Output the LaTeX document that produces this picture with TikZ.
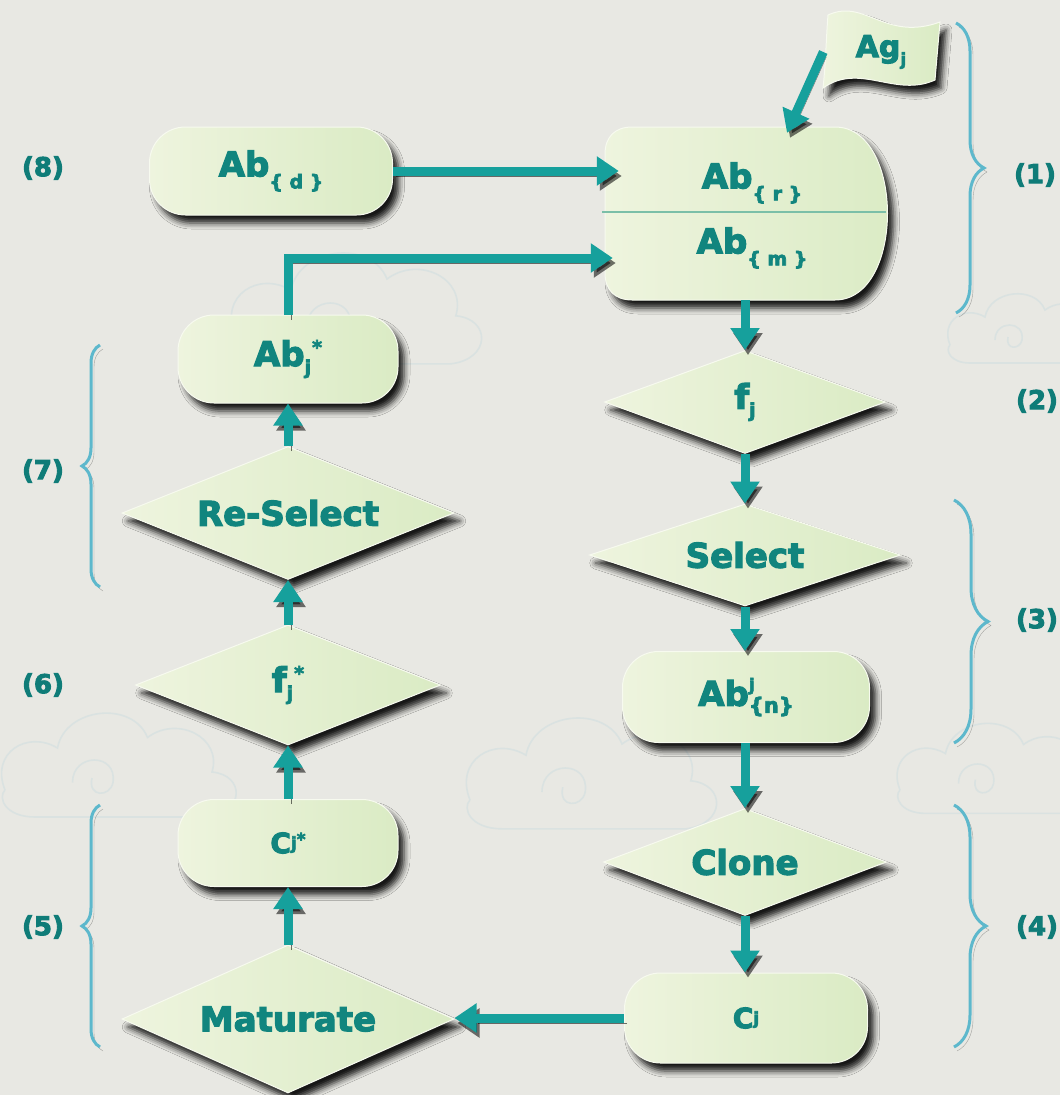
\documentclass[tikz,border=0pt]{standalone}
\usepackage{fontspec}
\setmainfont{DejaVu Sans}
\newfontfamily\heavyfont{DejaVu Sans Bold}[FakeBold=3.5]
\usetikzlibrary{shapes.geometric, arrows.meta, decorations.pathreplacing, shadows.blur, calc}
\definecolor{bgc}{HTML}{E8E8E3}
\definecolor{textc}{HTML}{11857E}
\definecolor{labc}{HTML}{0F7C78}
\definecolor{arrowc}{HTML}{16A09C}
\definecolor{bracec}{HTML}{5DB8CC}
\definecolor{fillL}{HTML}{EEF4DE}
\definecolor{fillR}{HTML}{DAEBC4}
\definecolor{edgec}{HTML}{F7FAEF}
\definecolor{divc}{HTML}{7BBFA8}
\definecolor{cloudc}{HTML}{DAE2E1}
\newcommand\subB[1]{\raisebox{-12pt}{\fontsize{19}{19}\selectfont #1}}
\newcommand\subJ[1]{\raisebox{-8pt}{\fontsize{19}{19}\selectfont #1}}
\newcommand\supS[1]{\raisebox{12pt}{\fontsize{19}{19}\selectfont #1}}
\newcommand\subsupJ[2]{\subJ{#1}\hspace{1pt}\supS{#2}}
\tikzset{
  shapefill/.style={left color=fillL, right color=fillR, draw=edgec, line width=1pt,
    blur shadow={shadow xshift=6pt, shadow yshift=-8pt, shadow blur radius=6pt, shadow opacity=90}},
  txt/.style={text=textc, font=\heavyfont\fontsize{34}{34}\selectfont, inner sep=0pt},
  pill/.style={shapefill, txt, shape=rectangle, rounded corners=36pt},
  dia/.style={shapefill, txt, shape=diamond, aspect=2.5},
  arr/.style={draw=arrowc, line width=9pt, -{Triangle[width=28pt,length=22pt]},
    preaction={draw=black, opacity=0.55, transform canvas={shift={(3pt,-5pt)}}}},
  brc/.style={draw=bracec, line width=3pt, decorate, decoration={brace, amplitude=#1},
    preaction={draw=black, opacity=0.3, transform canvas={shift={(3pt,-4pt)}}}},
  lab/.style={text=labc, font=\heavyfont\fontsize{26}{26}\selectfont, inner sep=0pt},
  cloudline/.style={draw=cloudc, line width=1.6pt},
  cloudpic/.pic={
    \draw[cloudline] (0,0) .. controls (-10,-25) and (15,-40) .. (35,-28)
      .. controls (40,-55) and (85,-60) .. (95,-35)
      .. controls (115,-50) and (145,-35) .. (138,-12)
      .. controls (160,-10) and (160,15) .. (135,18) -- (20,18)
      .. controls (0,18) and (-5,5) .. (0,0);
    \draw[cloudline] (45,-5) .. controls (45,-25) and (75,-25) .. (72,-5)
      .. controls (70,5) and (55,5) .. (58,-8);
  }
}
\begin{document}
\begin{tikzpicture}[x=1pt, y=-1pt]
\useasboundingbox (0,0) rectangle (1060,1095);
\fill[bgc] (0,0) rectangle (1060,1095);
% faint clouds
\pic[scale=1.6] at (235,335) {cloudpic};
\pic[scale=1.5] at (5,790) {cloudpic};
\pic[scale=1.6] at (470,800) {cloudpic};
\pic[scale=1.3] at (900,790) {cloudpic};
\pic[scale=1.0] at (950,345) {cloudpic};
% braces
\draw[brc=28pt] (956,23) -- (956,313);
\draw[brc=34pt] (954,500) -- (954,743);
\draw[brc=32pt] (954,805) -- (954,1047);
\draw[brc=18pt] (100,587) -- (100,345);
\draw[brc=18pt] (100,1047) -- (100,805);
% labels
\node[lab] (l1) at (1035,175) {(1)};
\node[lab] (l2) at (1037,401) {(2)};
\node[lab] (l3) at (1037,620) {(3)};
\node[lab] (l4) at (1037,927) {(4)};
\node[lab] (l5) at (43,927) {(5)};
\node[lab] (l6) at (43,685) {(6)};
\node[lab] (l7) at (43,471) {(7)};
\node[lab] (l8) at (43,168) {(8)};
% flag
\path[shapefill] (828,15) .. controls (865,-2) and (885,42) .. (940,22) -- (935,80)
  .. controls (895,98) and (860,62) .. (823,88) .. controls (826,60) and (826,40) .. (828,15) -- cycle;
\node[txt, font=\heavyfont\fontsize{30}{30}\selectfont, minimum width=115pt, minimum height=70pt] (ag) at (881,52) {Ag\raisebox{-8pt}{\fontsize{17}{17}\selectfont j}};
% big box
\path[shapefill] (835,127) .. controls (905,127) and (905,300) .. (835,300) -- (632,300)
  .. controls (615,300) and (605,290) .. (605,273) -- (605,154)
  .. controls (605,137) and (615,127) .. (632,127) -- cycle;
\node[minimum width=290pt, minimum height=173pt, inner sep=0pt] (abrm) at (750,213.5) {};
\draw[divc, line width=2pt] (602,212) -- (886,212);
\node[txt] (abr) at (752,183) {Ab\subB{\{ r \}}};
\node[txt] (abm) at (752,248) {Ab\subB{\{ m \}}};
% left column
\node[pill, minimum width=243pt, minimum height=88pt] (abd) at (271,171) {Ab\subB{\{ d \}}};
\node[pill, minimum width=220pt, minimum height=88pt] (abj) at (288,359) {Ab\subsupJ{j}{*}};
\node[dia, minimum width=332pt, minimum height=133pt] (resel) at (288,513) {Re-Select};
\node[dia, minimum width=305pt, minimum height=120pt] (fjs) at (288,685) {f\subsupJ{j}{*}};
\node[pill, minimum width=220pt, minimum height=87pt] (cjs) at (288,843) {\fontsize{28}{28}\selectfont C\raisebox{4pt}{\fontsize{17}{17}\selectfont j\raisebox{4pt}{*}}};
\node[dia, minimum width=332pt, minimum height=148pt] (mat) at (288,1019) {Maturate};
% right column
\node[dia, minimum width=281pt, minimum height=103pt] (fj) at (745,402) {f\subJ{j}};
\node[dia, minimum width=311pt, minimum height=102pt] (sel) at (745,555) {Select};
\node[pill, minimum width=247pt, minimum height=91pt] (abn) at (746,697) {Ab\makebox[0pt][l]{\raisebox{15pt}{\fontsize{17}{17}\selectfont j}}\raisebox{-7pt}{\fontsize{21}{21}\selectfont\{n\}}};
\node[dia, minimum width=283pt, minimum height=107pt] (clone) at (745,862) {Clone};
\node[pill, minimum width=243pt, minimum height=90pt] (cj) at (746,1018) {\fontsize{28}{28}\selectfont C\raisebox{4pt}{\fontsize{17}{17}\selectfont j}};
% connectors
\draw[arr] (ag.west) -- ($(abrm.north)+(37,6)$);
\draw[arr] (abd.east) -- ($(abd.east -| abrm.west)+(14,0)$);
\draw[arr] (abj.north) |- ($(abrm.west)+(8,44.5)$);
\draw[arr] (abrm.south -| fj.north) -- (fj.north);
\draw[arr] (fj.south) -- (sel.north);
\draw[arr] (sel.south) -- (abn.north -| sel.south);
\draw[arr] (abn.south -| clone.north) -- (clone.north);
\draw[arr] (clone.south) -- (cj.north -| clone.south);
\draw[arr] (cj.west) -- (cj.west -| mat.east);
\draw[arr] (mat.north) -- (cjs.south -| mat.north);
\draw[arr] (cjs.north -| fjs.south) -- (fjs.south);
\draw[arr] (fjs.north) -- (resel.south);
\draw[arr] (resel.north) -- (abj.south -| resel.north);
\end{tikzpicture}
\end{document}
